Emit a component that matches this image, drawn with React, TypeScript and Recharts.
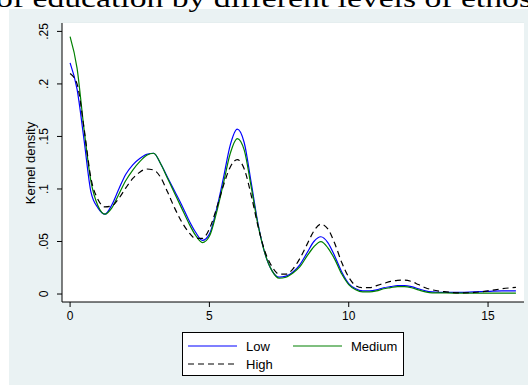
import * as React from "react";
import { CartesianGrid, Legend, Line, LineChart, ReferenceArea, XAxis, YAxis } from "recharts";

// years of education (x grid of the density estimate)
const xs = [
  0, 0.25, 0.5, 0.75, 1, 1.25, 1.5, 1.75, 2, 2.25, 2.5, 2.75, 3, 3.25, 3.5, 3.75, 4, 4.25, 4.5, 4.75,
  5, 5.25, 5.5, 5.75, 6, 6.25, 6.5, 6.75, 7, 7.25, 7.5, 7.75, 8, 8.25, 8.5, 8.75, 9, 9.25, 9.5, 9.75,
  10, 10.25, 10.5, 10.75, 11, 11.25, 11.5, 11.75, 12, 12.25, 12.5, 12.75, 13, 13.5, 14, 14.5, 15, 15.5, 16,
];

const low = [
  0.22, 0.195, 0.147, 0.097, 0.082, 0.076, 0.085, 0.1, 0.114, 0.123, 0.129, 0.133, 0.134, 0.124, 0.111, 0.098, 0.085, 0.071, 0.059, 0.051,
  0.057, 0.08, 0.11, 0.142, 0.157, 0.144, 0.106, 0.066, 0.038, 0.022, 0.016, 0.017, 0.021, 0.028, 0.039, 0.05, 0.0545, 0.049, 0.036, 0.021,
  0.01, 0.005, 0.003, 0.003, 0.004, 0.006, 0.007, 0.008, 0.008, 0.007, 0.005, 0.003, 0.002, 0.0015, 0.0015, 0.002, 0.0025, 0.003, 0.003,
];

const medium = [
  0.245, 0.215, 0.157, 0.107, 0.084, 0.076, 0.082, 0.095, 0.108, 0.118, 0.126, 0.132, 0.134, 0.124, 0.11, 0.096, 0.082, 0.068, 0.056, 0.049,
  0.055, 0.077, 0.105, 0.134, 0.148, 0.137, 0.102, 0.065, 0.038, 0.022, 0.015, 0.016, 0.02, 0.026, 0.036, 0.045, 0.0498, 0.044, 0.033, 0.019,
  0.009, 0.004, 0.002, 0.002, 0.003, 0.005, 0.006, 0.007, 0.007, 0.006, 0.004, 0.002, 0.001, 0.001, 0.0008, 0.0008, 0.0008, 0.0008, 0.0008,
];

const high = [
  0.21, 0.2, 0.158, 0.11, 0.09, 0.083, 0.084, 0.091, 0.101, 0.11, 0.116, 0.119, 0.118, 0.111, 0.097, 0.082, 0.069, 0.059, 0.053, 0.053,
  0.062, 0.081, 0.103, 0.121, 0.128, 0.119, 0.094, 0.064, 0.04, 0.026, 0.019, 0.019, 0.024, 0.034, 0.047, 0.06, 0.0665, 0.062, 0.048, 0.03,
  0.016, 0.008, 0.006, 0.006, 0.008, 0.01, 0.012, 0.013, 0.0133, 0.012, 0.009, 0.006, 0.004, 0.002, 0.001, 0.0015, 0.003, 0.005, 0.0064,
];

const xTicks = [0, 5, 10, 15];
const yTicks = [0, 0.05, 0.1, 0.15, 0.2, 0.25];
const yTickLabels = ["0", ".05", ".1", ".15", ".2", ".25"];
const xDomain = [-0.29, 16.29];
const yDomain = [-0.0076, 0.258];

const series = [
  { key: "low", name: "Low", color: "#0000ff", dash: undefined },
  { key: "medium", name: "Medium", color: "#008000", dash: undefined },
  { key: "high", name: "High", color: "#000000", dash: "6 4" },
];

const data = xs.map((x, i) => ({ x, low: low[i], medium: medium[i], high: high[i] }));

const FONT = "'Liberation Sans', Arial, sans-serif";
// stata s2color "ltbluishgray"
const PANEL = "#eaf2f3";
const GRID = "#e3ecee";

function YTick(props: any) {
  const { x, y, payload } = props;
  const label = yTickLabels[yTicks.indexOf(payload.value)] ?? String(payload.value);
  const bx = x - 7;
  return (
    <text
      x={bx}
      y={y}
      transform={`rotate(-90, ${bx}, ${y})`}
      textAnchor="middle"
      fontSize={12}
      fontFamily={FONT}
      fill="#000"
    >
      {label}
    </text>
  );
}

function LegendBox() {
  return (
    <div
      style={{
        position: "relative",
        width: 220,
        height: 42,
        border: "1px solid #000",
        background: "#fff",
        fontFamily: FONT,
        fontSize: 13,
        color: "#000",
      }}
    >
      {series.map((s, i) => (
        <div
          key={s.key}
          style={{
            position: "absolute",
            left: 5 + (i % 2) * 105,
            top: 4 + Math.floor(i / 2) * 18,
            display: "flex",
            alignItems: "center",
            height: 18,
          }}
        >
          <svg width={49} height={10} style={{ marginRight: 9 }}>
            <line x1={0} y1={5} x2={49} y2={5} stroke={s.color} strokeWidth={1.2} strokeDasharray={s.dash} />
          </svg>
          <span>{s.name}</span>
        </div>
      ))}
    </div>
  );
}

export default function App() {
  return (
    <div style={{ position: "absolute", left: 0, top: 0, width: 528, height: 385, backgroundColor: "#ffffff", overflow: "hidden" }}>
      <div style={{ position: "absolute", left: 9, top: 9, width: 519, height: 376, backgroundColor: PANEL }} />
      <svg width={528} height={14} style={{ position: "absolute", left: 0, top: 0 }}>
        <text
          x={-4}
          y={7}
          fontFamily="'Liberation Serif', 'DejaVu Serif', serif"
          fontSize={26}
          textLength={536}
          lengthAdjust="spacingAndGlyphs"
          fill="#000"
        >
          of education by different levels of ethos
        </text>
      </svg>
      <div
        style={{
          position: "absolute",
          left: 30,
          top: 163,
          transform: "translate(-50%, -50%) rotate(-90deg)",
          fontFamily: FONT,
          fontSize: 13,
          whiteSpace: "nowrap",
          color: "#000",
        }}
      >
        Kernel density
      </div>
      <div style={{ position: "absolute", left: 0, top: 0 }}>
        <LineChart width={528} height={385} data={data} margin={{ top: 23, right: 4, left: 0, bottom: 53 }}>
          <ReferenceArea
            x1={xDomain[0]}
            x2={xDomain[1]}
            y1={yDomain[0]}
            y2={yDomain[1]}
            fill="#ffffff"
            fillOpacity={1}
            stroke="none"
            ifOverflow="hidden"
          />
          <CartesianGrid vertical={false} fill="none" stroke={GRID} strokeWidth={1.5} />
          <XAxis
            dataKey="x"
            type="number"
            domain={xDomain}
            ticks={xTicks}
            allowDataOverflow
            height={30}
            tickSize={5}
            tickMargin={4}
            stroke="#000"
            tick={{ fontSize: 12, fontFamily: FONT, fill: "#000" }}
          />
          <YAxis
            type="number"
            domain={yDomain}
            ticks={yTicks}
            allowDataOverflow
            width={62}
            tickSize={5}
            tickMargin={2}
            stroke="#000"
            tick={<YTick />}
          />
          <Legend
            layout="horizontal"
            verticalAlign="middle"
            align="center"
            wrapperStyle={{ left: 182, top: 332, width: 222, height: 44 }}
            content={() => <LegendBox />}
          />
          {series.map((s) => (
            <Line
              key={s.key}
              type="monotone"
              dataKey={s.key}
              name={s.name}
              stroke={s.color}
              strokeWidth={1.2}
              strokeDasharray={s.dash}
              dot={false}
              activeDot={false}
              isAnimationActive={false}
            />
          ))}
        </LineChart>
      </div>
    </div>
  );
}
